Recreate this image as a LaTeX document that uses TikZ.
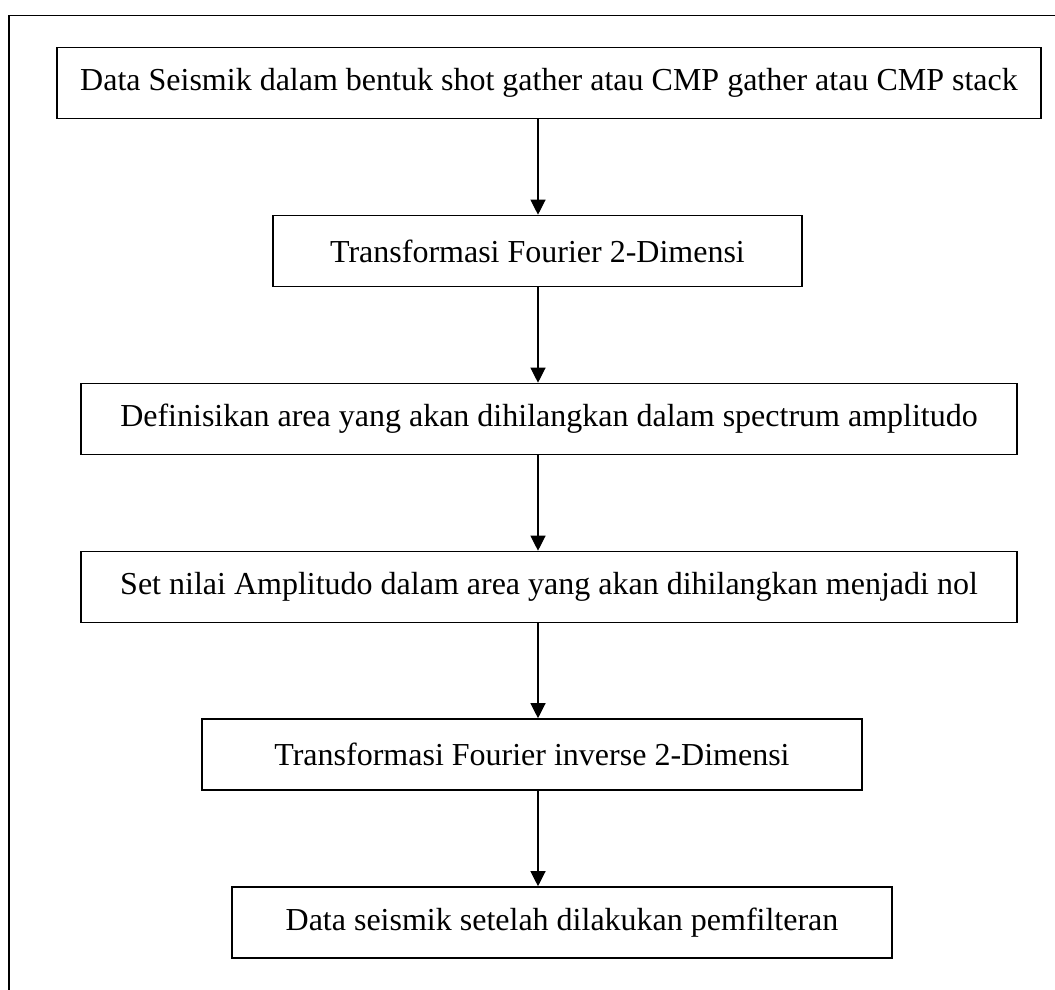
\documentclass[tikz,border=0pt]{standalone}
\usepackage{fontspec}
\setmainfont{Liberation Serif}
\usetikzlibrary{arrows.meta}
\begin{document}
\begin{tikzpicture}[x=1pt, y=-1pt,
	flowbox/.style={draw, line width=1.6pt, inner ysep=0pt,
		minimum height=71pt, font=\fontsize{32}{38}\selectfont},
	flowarrow/.style={line width=1.2pt,
		-{Triangle[length=15pt,width=15pt]}}]
\useasboundingbox (0,0) rectangle (1055,990);
\draw[line width=1.6pt] (9,990) -- (9,15.5) -- (1055,15.5);
\coordinate (axis) at (538,0);
\node[flowbox, minimum width=984pt] (seismik) at (549,83)
	{Data Seismik dalam bentuk shot gather atau CMP gather atau CMP stack};
\node[flowbox, minimum width=529pt] (fourier) at (537.5,251)
	{Transformasi Fourier 2-Dimensi};
\node[flowbox, minimum width=936pt] (area) at (549,419)
	{Definisikan area yang akan dihilangkan dalam spectrum amplitudo};
\node[flowbox, minimum width=936pt] (nol) at (549,587)
	{Set nilai Amplitudo dalam area yang akan dihilangkan menjadi nol};
\node[flowbox, minimum width=660pt] (inverse) at (532,754.5)
	{Transformasi Fourier inverse 2-Dimensi};
\node[flowbox, minimum width=660pt] (hasil) at (562,922.5)
	{Data seismik setelah dilakukan pemfilteran};
\foreach \a/\b in {seismik/fourier, fourier/area, area/nol,
		nol/inverse, inverse/hasil}
	\draw[flowarrow] (\a.south -| axis) -- (\b.north -| axis);
\end{tikzpicture}
\end{document}
